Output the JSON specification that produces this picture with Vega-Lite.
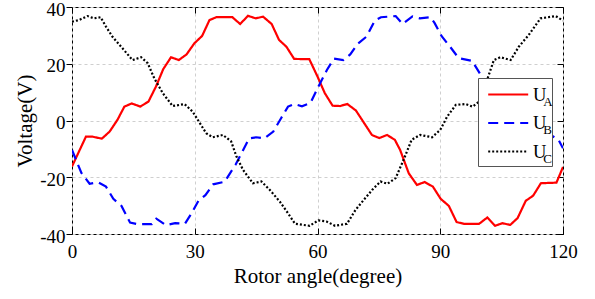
{
  "$schema": "https://vega.github.io/schema/vega-lite/v6.json",
  "width": 491,
  "height": 227,
  "autosize": "none",
  "padding": {"left": 72, "top": 7, "right": 32, "bottom": 65},
  "background": "white",
  "config": {
    "view": {"stroke": "black", "strokeWidth": 1},
    "font": "Liberation Serif"
  },
  "datasets": {
    "volt": [
      {"angle": 0, "series": "UA", "voltage": -16.2},
      {"angle": 3.4, "series": "UA", "voltage": -5.7},
      {"angle": 5.0, "series": "UA", "voltage": -5.7},
      {"angle": 7.3, "series": "UA", "voltage": -6.4},
      {"angle": 9.2, "series": "UA", "voltage": -3.9},
      {"angle": 11.1, "series": "UA", "voltage": 0.2},
      {"angle": 12.8, "series": "UA", "voltage": 4.9},
      {"angle": 14.6, "series": "UA", "voltage": 6.0},
      {"angle": 16.7, "series": "UA", "voltage": 4.9},
      {"angle": 18.7, "series": "UA", "voltage": 6.7},
      {"angle": 20.5, "series": "UA", "voltage": 11.9},
      {"angle": 22.3, "series": "UA", "voltage": 18.1},
      {"angle": 24.2, "series": "UA", "voltage": 22.3},
      {"angle": 26.1, "series": "UA", "voltage": 21.3},
      {"angle": 28.0, "series": "UA", "voltage": 23.3},
      {"angle": 29.9, "series": "UA", "voltage": 27.2},
      {"angle": 31.8, "series": "UA", "voltage": 29.8},
      {"angle": 33.6, "series": "UA", "voltage": 35.4},
      {"angle": 35.3, "series": "UA", "voltage": 36.4},
      {"angle": 39.2, "series": "UA", "voltage": 36.4},
      {"angle": 41.1, "series": "UA", "voltage": 34.0},
      {"angle": 43.0, "series": "UA", "voltage": 36.9},
      {"angle": 44.9, "series": "UA", "voltage": 36.0},
      {"angle": 46.7, "series": "UA", "voltage": 36.6},
      {"angle": 48.8, "series": "UA", "voltage": 34.0},
      {"angle": 50.6, "series": "UA", "voltage": 28.4},
      {"angle": 52.4, "series": "UA", "voltage": 26.0},
      {"angle": 54.3, "series": "UA", "voltage": 21.7},
      {"angle": 58.0, "series": "UA", "voltage": 21.6},
      {"angle": 60.0, "series": "UA", "voltage": 15.5},
      {"angle": 61.8, "series": "UA", "voltage": 9.6},
      {"angle": 63.7, "series": "UA", "voltage": 5.2},
      {"angle": 65.5, "series": "UA", "voltage": 5.1},
      {"angle": 67.3, "series": "UA", "voltage": 5.8},
      {"angle": 69.4, "series": "UA", "voltage": 3.5},
      {"angle": 73.3, "series": "UA", "voltage": -5.1},
      {"angle": 75.1, "series": "UA", "voltage": -6.2},
      {"angle": 77.0, "series": "UA", "voltage": -5.1},
      {"angle": 78.9, "series": "UA", "voltage": -6.8},
      {"angle": 80.2, "series": "UA", "voltage": -10.4},
      {"angle": 82.3, "series": "UA", "voltage": -18.6},
      {"angle": 84.3, "series": "UA", "voltage": -22.7},
      {"angle": 86.2, "series": "UA", "voltage": -21.7},
      {"angle": 88.2, "series": "UA", "voltage": -23.3},
      {"angle": 90.1, "series": "UA", "voltage": -27.6},
      {"angle": 92.1, "series": "UA", "voltage": -30.1},
      {"angle": 94.0, "series": "UA", "voltage": -35.8},
      {"angle": 95.8, "series": "UA", "voltage": -36.4},
      {"angle": 99.5, "series": "UA", "voltage": -36.4},
      {"angle": 101.5, "series": "UA", "voltage": -34.2},
      {"angle": 103.4, "series": "UA", "voltage": -37.1},
      {"angle": 105.2, "series": "UA", "voltage": -36.2},
      {"angle": 107.1, "series": "UA", "voltage": -36.8},
      {"angle": 108.9, "series": "UA", "voltage": -34.4},
      {"angle": 110.9, "series": "UA", "voltage": -28.3},
      {"angle": 112.7, "series": "UA", "voltage": -26.5},
      {"angle": 114.6, "series": "UA", "voltage": -22.1},
      {"angle": 118.4, "series": "UA", "voltage": -21.9},
      {"angle": 120, "series": "UA", "voltage": -16.4},

      {"angle": 0, "series": "UB", "voltage": -10.4},
      {"angle": 2.3, "series": "UB", "voltage": -18.5},
      {"angle": 4.3, "series": "UB", "voltage": -22.3},
      {"angle": 6.4, "series": "UB", "voltage": -21.8},
      {"angle": 8.3, "series": "UB", "voltage": -23.3},
      {"angle": 10.1, "series": "UB", "voltage": -27.6},
      {"angle": 12.1, "series": "UB", "voltage": -30.1},
      {"angle": 14.2, "series": "UB", "voltage": -36.0},
      {"angle": 15.9, "series": "UB", "voltage": -36.5},
      {"angle": 19.5, "series": "UB", "voltage": -36.5},
      {"angle": 20.6, "series": "UB", "voltage": -34.6},
      {"angle": 23.0, "series": "UB", "voltage": -36.9},
      {"angle": 25.2, "series": "UB", "voltage": -36.2},
      {"angle": 27.6, "series": "UB", "voltage": -36.4},
      {"angle": 29.1, "series": "UB", "voltage": -33.0},
      {"angle": 30.9, "series": "UB", "voltage": -28.3},
      {"angle": 32.6, "series": "UB", "voltage": -26.3},
      {"angle": 34.5, "series": "UB", "voltage": -22.5},
      {"angle": 37.3, "series": "UB", "voltage": -21.6},
      {"angle": 40.0, "series": "UB", "voltage": -15.5},
      {"angle": 43.3, "series": "UB", "voltage": -6.3},
      {"angle": 45.0, "series": "UB", "voltage": -5.9},
      {"angle": 47.0, "series": "UB", "voltage": -6.3},
      {"angle": 49.2, "series": "UB", "voltage": -3.9},
      {"angle": 51.1, "series": "UB", "voltage": 0.8},
      {"angle": 52.8, "series": "UB", "voltage": 4.9},
      {"angle": 54.3, "series": "UB", "voltage": 5.8},
      {"angle": 56.2, "series": "UB", "voltage": 5.0},
      {"angle": 58.3, "series": "UB", "voltage": 6.2},
      {"angle": 60.3, "series": "UB", "voltage": 12.2},
      {"angle": 62.3, "series": "UB", "voltage": 17.8},
      {"angle": 64.0, "series": "UB", "voltage": 21.8},
      {"angle": 66.3, "series": "UB", "voltage": 21.3},
      {"angle": 68.0, "series": "UB", "voltage": 23.3},
      {"angle": 69.8, "series": "UB", "voltage": 27.0},
      {"angle": 72.0, "series": "UB", "voltage": 29.6},
      {"angle": 74.0, "series": "UB", "voltage": 35.2},
      {"angle": 75.5, "series": "UB", "voltage": 36.4},
      {"angle": 79.1, "series": "UB", "voltage": 36.8},
      {"angle": 80.8, "series": "UB", "voltage": 34.0},
      {"angle": 83.2, "series": "UB", "voltage": 36.7},
      {"angle": 85.0, "series": "UB", "voltage": 36.0},
      {"angle": 87.6, "series": "UB", "voltage": 36.4},
      {"angle": 88.6, "series": "UB", "voltage": 34.4},
      {"angle": 90.3, "series": "UB", "voltage": 29.8},
      {"angle": 92.5, "series": "UB", "voltage": 25.8},
      {"angle": 94.5, "series": "UB", "voltage": 22.0},
      {"angle": 97.8, "series": "UB", "voltage": 21.0},
      {"angle": 100.0, "series": "UB", "voltage": 15.8},
      {"angle": 101.8, "series": "UB", "voltage": 9.6},
      {"angle": 103.7, "series": "UB", "voltage": 5.2},
      {"angle": 105.5, "series": "UB", "voltage": 5.1},
      {"angle": 107.3, "series": "UB", "voltage": 5.8},
      {"angle": 109.4, "series": "UB", "voltage": 3.5},
      {"angle": 113.3, "series": "UB", "voltage": -5.1},
      {"angle": 115.1, "series": "UB", "voltage": -6.2},
      {"angle": 117.0, "series": "UB", "voltage": -5.1},
      {"angle": 118.9, "series": "UB", "voltage": -6.8},
      {"angle": 120, "series": "UB", "voltage": -9.8},

      {"angle": 0, "series": "UC", "voltage": 34.8},
      {"angle": 1.7, "series": "UC", "voltage": 35.4},
      {"angle": 3.8, "series": "UC", "voltage": 36.8},
      {"angle": 5.4, "series": "UC", "voltage": 36.0},
      {"angle": 7.0, "series": "UC", "voltage": 36.4},
      {"angle": 8.3, "series": "UC", "voltage": 33.1},
      {"angle": 9.9, "series": "UC", "voltage": 29.5},
      {"angle": 12.0, "series": "UC", "voltage": 26.0},
      {"angle": 14.8, "series": "UC", "voltage": 21.3},
      {"angle": 16.9, "series": "UC", "voltage": 22.3},
      {"angle": 18.5, "series": "UC", "voltage": 20.2},
      {"angle": 20.1, "series": "UC", "voltage": 14.9},
      {"angle": 22.2, "series": "UC", "voltage": 9.6},
      {"angle": 24.6, "series": "UC", "voltage": 5.1},
      {"angle": 27.5, "series": "UC", "voltage": 5.8},
      {"angle": 29.5, "series": "UC", "voltage": 3.1},
      {"angle": 32.8, "series": "UC", "voltage": -4.5},
      {"angle": 34.4, "series": "UC", "voltage": -5.9},
      {"angle": 36.9, "series": "UC", "voltage": -5.1},
      {"angle": 38.9, "series": "UC", "voltage": -7.4},
      {"angle": 40.2, "series": "UC", "voltage": -12.7},
      {"angle": 41.8, "series": "UC", "voltage": -17.4},
      {"angle": 44.2, "series": "UC", "voltage": -22.1},
      {"angle": 46.3, "series": "UC", "voltage": -21.5},
      {"angle": 48.3, "series": "UC", "voltage": -24.4},
      {"angle": 50.8, "series": "UC", "voltage": -28.6},
      {"angle": 52.8, "series": "UC", "voltage": -32.7},
      {"angle": 54.5, "series": "UC", "voltage": -36.4},
      {"angle": 58.1, "series": "UC", "voltage": -37.1},
      {"angle": 60.2, "series": "UC", "voltage": -35.2},
      {"angle": 62.2, "series": "UC", "voltage": -35.6},
      {"angle": 64.3, "series": "UC", "voltage": -37.1},
      {"angle": 67.2, "series": "UC", "voltage": -36.4},
      {"angle": 69.3, "series": "UC", "voltage": -31.5},
      {"angle": 71.3, "series": "UC", "voltage": -28.0},
      {"angle": 73.4, "series": "UC", "voltage": -24.4},
      {"angle": 75.4, "series": "UC", "voltage": -21.5},
      {"angle": 77.1, "series": "UC", "voltage": -22.3},
      {"angle": 79.1, "series": "UC", "voltage": -20.3},
      {"angle": 81.2, "series": "UC", "voltage": -13.3},
      {"angle": 83.0, "series": "UC", "voltage": -6.8},
      {"angle": 85.1, "series": "UC", "voltage": -5.1},
      {"angle": 88.0, "series": "UC", "voltage": -5.9},
      {"angle": 90.0, "series": "UC", "voltage": -3.3},
      {"angle": 91.7, "series": "UC", "voltage": 1.4},
      {"angle": 93.8, "series": "UC", "voltage": 5.5},
      {"angle": 96.2, "series": "UC", "voltage": 5.8},
      {"angle": 97.9, "series": "UC", "voltage": 4.9},
      {"angle": 99.8, "series": "UC", "voltage": 7.0},
      {"angle": 101.5, "series": "UC", "voltage": 14.5},
      {"angle": 103.1, "series": "UC", "voltage": 21.3},
      {"angle": 104.7, "series": "UC", "voltage": 22.3},
      {"angle": 107.2, "series": "UC", "voltage": 21.3},
      {"angle": 109.2, "series": "UC", "voltage": 26.0},
      {"angle": 111.6, "series": "UC", "voltage": 30.1},
      {"angle": 114.5, "series": "UC", "voltage": 36.0},
      {"angle": 118.2, "series": "UC", "voltage": 36.8},
      {"angle": 120, "series": "UC", "voltage": 35.2}
    ],
    "subs": [
      {"series": "UA", "sub": "A"},
      {"series": "UB", "sub": "B"},
      {"series": "UC", "sub": "C"}
    ]
  },
  "resolve": {"axis": {"x": "independent", "y": "independent"}},
  "layer": [
    {
      "data": {"name": "volt"},
      "mark": {"type": "line", "strokeWidth": 2.2, "strokeCap": "butt", "clip": true},
      "encoding": {
        "x": {
          "field": "angle", "type": "quantitative",
          "scale": {"domain": [0, 120], "nice": false, "zero": false},
          "axis": {
            "values": [0, 30, 60, 90, 120],
            "title": "Rotor angle(degree)",
            "grid": true, "gridDash": [3, 3], "gridColor": "#cfcfcf", "gridWidth": 1,
            "domain": false,
            "ticks": true, "tickSize": -6, "tickColor": "black", "tickWidth": 1,
            "labelPadding": 14, "labelFont": "Liberation Serif", "labelFontSize": 19, "labelColor": "black",
            "labelFlush": false,
            "titleFont": "Liberation Serif", "titleFontSize": 21, "titleFontWeight": "normal", "titleColor": "black",
            "titlePadding": 4
          }
        },
        "y": {
          "field": "voltage", "type": "quantitative",
          "scale": {"domain": [-40, 40], "nice": false, "zero": false},
          "axis": {
            "values": [-40, -20, 0, 20, 40],
            "labelExpr": "'' + datum.value",
            "title": "Voltage(V)",
            "grid": true, "gridDash": [3, 3], "gridColor": "#cfcfcf", "gridWidth": 1,
            "domain": false,
            "ticks": true, "tickSize": 6, "tickColor": "black", "tickWidth": 1,
            "labelPadding": 1, "labelOffset": 2, "labelFont": "Liberation Serif", "labelFontSize": 19, "labelColor": "black",
            "labelFlush": false,
            "titleFont": "Liberation Serif", "titleFontSize": 21, "titleFontWeight": "normal", "titleColor": "black",
            "titlePadding": 4
          }
        },
        "color": {
          "field": "series", "type": "nominal",
          "scale": {"domain": ["UA", "UB", "UC"], "range": ["#ff0000", "#0000ff", "#000000"]},
          "legend": {
            "orient": "none", "legendX": 406, "legendY": 71, "title": null,
            "labelExpr": "'U '",
            "labelFont": "Liberation Serif", "labelFontSize": 18.5, "labelColor": "black",
            "symbolType": "M-2,0H2", "symbolSize": 400, "symbolStrokeWidth": 2.2,
            "symbolOffset": 13.7, "labelOffset": 13.3,
            "padding": 5, "rowPadding": 7.5,
            "strokeColor": "#555555", "fillColor": "white"
          }
        },
        "strokeDash": {
          "field": "series", "type": "nominal",
          "scale": {"domain": ["UA", "UB", "UC"], "range": [[1, 0], [10, 6], [2, 2]]},
          "legend": {
            "orient": "none", "legendX": 406, "legendY": 71, "title": null,
            "labelExpr": "'U '",
            "labelFont": "Liberation Serif", "labelFontSize": 18.5, "labelColor": "black",
            "symbolType": "M-2,0H2", "symbolSize": 400, "symbolStrokeWidth": 2.2,
            "symbolOffset": 13.7, "labelOffset": 13.3,
            "padding": 5, "rowPadding": 7.5,
            "strokeColor": "#555555", "fillColor": "white"
          }
        }
      }
    },
    {
      "data": {"name": "volt"},
      "mark": {"type": "line", "strokeOpacity": 0},
      "encoding": {
        "x": {
          "field": "angle", "type": "quantitative",
          "axis": {
            "orient": "top", "values": [0, 30, 60, 90, 120],
            "labels": false, "title": null, "grid": false, "domain": false,
            "ticks": true, "tickSize": -6, "tickColor": "black", "tickWidth": 1
          }
        },
        "y": {
          "field": "voltage", "type": "quantitative",
          "axis": {
            "orient": "right", "values": [-40, -20, 0, 20, 40],
            "labels": false, "title": null, "grid": false, "domain": false,
            "ticks": true, "tickSize": -6, "tickColor": "black", "tickWidth": 1
          }
        },
        "detail": {"field": "series", "type": "nominal"}
      }
    },
    {
      "data": {"name": "subs"},
      "mark": {"type": "point", "opacity": 0},
      "encoding": {
        "shape": {
          "field": "sub", "type": "nominal",
          "legend": {
            "orient": "none", "legendX": 406, "legendY": 78.5, "title": null,
            "labelFont": "Liberation Serif", "labelFontSize": 13, "labelColor": "black",
            "symbolOpacity": 0, "symbolSize": 400,
            "symbolOffset": 13.7, "labelOffset": 24.5,
            "padding": 5, "rowPadding": 7.5
          }
        }
      }
    }
  ]
}
